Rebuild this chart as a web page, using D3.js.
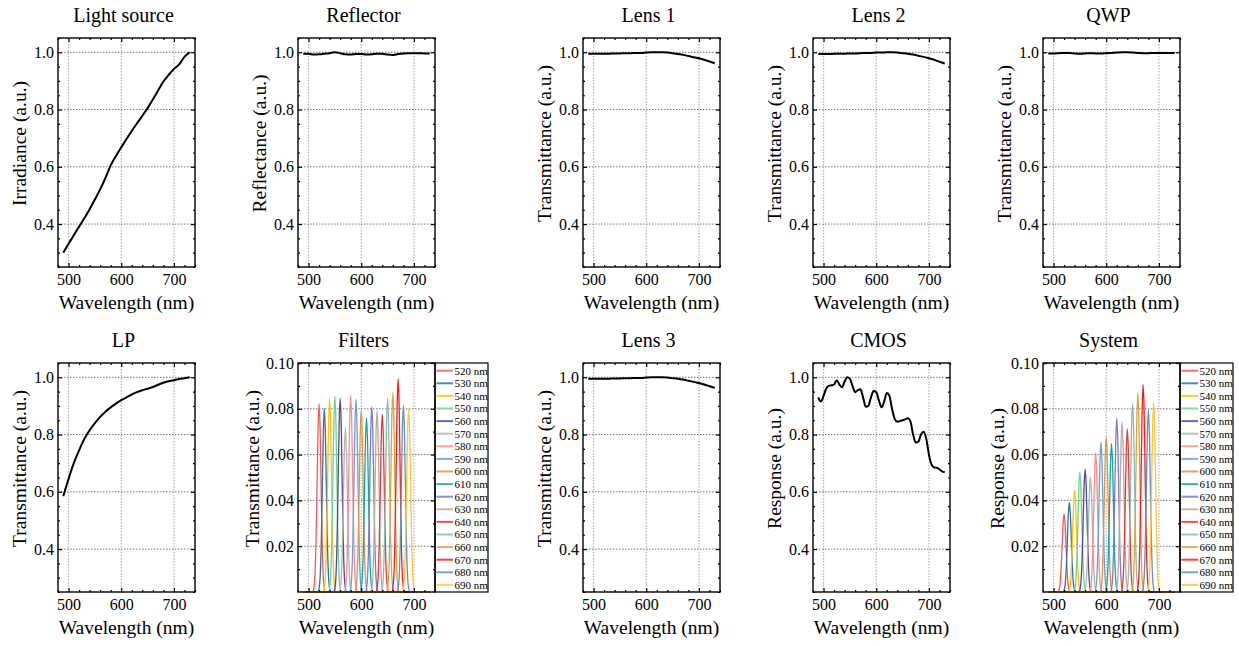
<!DOCTYPE html>
<html>
<head>
<meta charset="utf-8">
<title>Component spectra</title>
<script src="https://cdn.jsdelivr.net/npm/d3@7"></script>
<style>
  body { margin: 0; background: #fff; }
  text { font-family: "Liberation Serif", "Times New Roman", serif; fill: #000; }
</style>
</head>
<body>
<svg id="chart" width="1239" height="646"></svg>
<script>
// wavelength grid (nm) shared by the smooth component curves
var wl = [490, 500, 510, 520, 530, 540, 550, 560, 570, 580, 590, 600, 610,
          620, 630, 640, 650, 660, 670, 680, 690, 700, 710, 720, 730];

var lightSource = [0.300, 0.331, 0.361, 0.391, 0.420, 0.452, 0.486, 0.521, 0.561, 0.605, 0.638, 0.668, 0.697,
                   0.725, 0.752, 0.778, 0.805, 0.835, 0.867, 0.898, 0.921, 0.942, 0.958, 0.984, 1.000];
var reflector   = [0.995, 0.995, 0.992, 0.993, 0.995, 0.997, 1.000, 0.997, 0.993, 0.992, 0.994, 0.994, 0.992,
                   0.993, 0.995, 0.995, 0.992, 0.991, 0.994, 0.996, 0.997, 0.997, 0.997, 0.996, 0.996];
var lens1       = [0.995, 0.995, 0.995, 0.995, 0.995, 0.996, 0.996, 0.997, 0.997, 0.998, 0.998, 0.999, 1.000,
                   1.000, 1.000, 0.999, 0.997, 0.994, 0.991, 0.987, 0.983, 0.979, 0.974, 0.968, 0.962];
var lens2       = [0.994, 0.994, 0.994, 0.995, 0.995, 0.995, 0.996, 0.996, 0.997, 0.998, 0.998, 0.999, 0.999,
                   1.000, 1.000, 0.999, 0.997, 0.995, 0.992, 0.988, 0.984, 0.979, 0.974, 0.967, 0.961];
var qwp         = [0.996, 0.996, 0.997, 0.998, 0.998, 0.996, 0.995, 0.996, 0.997, 0.996, 0.996, 0.997, 0.998,
                   0.999, 1.000, 1.000, 0.999, 0.998, 0.997, 0.997, 0.998, 0.998, 0.998, 0.998, 0.998];
var lp          = [0.585, 0.645, 0.700, 0.745, 0.785, 0.815, 0.840, 0.862, 0.880, 0.895, 0.908, 0.920, 0.930,
                   0.940, 0.948, 0.955, 0.960, 0.966, 0.974, 0.981, 0.986, 0.990, 0.994, 0.997, 1.000];
var lens3       = [0.995, 0.995, 0.995, 0.995, 0.995, 0.996, 0.996, 0.997, 0.997, 0.998, 0.998, 0.999, 1.000,
                   1.000, 1.000, 0.999, 0.997, 0.995, 0.992, 0.988, 0.984, 0.980, 0.975, 0.969, 0.963];

// CMOS response has ripples, so it is read at 5 nm
var cmosWl = [490, 495, 500, 505, 510, 515, 520, 525, 530, 535, 540, 545, 550, 555, 560, 565, 570, 575,
              580, 585, 590, 595, 600, 605, 610, 615, 620, 625, 630, 635, 640, 645, 650, 655, 660, 665,
              670, 675, 680, 685, 690, 695, 700, 705, 710, 715, 720, 725, 730];
var cmos   = [0.930, 0.915, 0.935, 0.960, 0.970, 0.972, 0.975, 0.990, 0.975, 0.965, 0.985, 1.000, 0.995,
              0.970, 0.948, 0.955, 0.958, 0.930, 0.897, 0.900, 0.930, 0.952, 0.948, 0.920, 0.895, 0.915,
              0.945, 0.935, 0.890, 0.855, 0.845, 0.847, 0.850, 0.853, 0.857, 0.845, 0.800, 0.772, 0.775,
              0.800, 0.810, 0.785, 0.730, 0.695, 0.685, 0.684, 0.678, 0.671, 0.668];

// band-pass filters: centre wavelengths and peak heights
var filterNm    = [520, 530, 540, 550, 560, 570, 580, 590, 600, 610, 620, 630, 640, 650, 660, 670, 680, 690];
var filterPeaks = [0.0822, 0.0801, 0.0843, 0.0855, 0.0845, 0.0717, 0.0858, 0.0842, 0.0793,
                   0.0761, 0.0809, 0.0793, 0.0777, 0.0848, 0.0870, 0.0932, 0.0816, 0.0803];
var systemPeaks = [0.0341, 0.0391, 0.0446, 0.0525, 0.0536, 0.0501, 0.0609, 0.0654, 0.0677,
                   0.0648, 0.0759, 0.0743, 0.0712, 0.0822, 0.0868, 0.0906, 0.0797, 0.0828];
var bandOffset = [-12, -10, -8, -6, -4, -2, 0, 2, 4, 6, 8, 10, 12];
var bandShape  = [0, 0.02, 0.08, 0.25, 0.54, 0.86, 1, 0.86, 0.54, 0.25, 0.08, 0.02, 0];
var bandColors = ["#f25a5a", "#3b6ea5", "#ffc20e", "#6fd28f", "#4d4d8f", "#b3b3b3", "#ff8c8c", "#6b9fd6", "#d9954a",
                  "#12a89e", "#7b7bcc", "#b8aba3", "#e53935", "#8cbcb3", "#d4a73c", "#ff1a1a", "#6a90c0", "#ffc83a"];

var xTicks = [500, 600, 700];
var xMinor = [480, 520, 540, 560, 580, 620, 640, 660, 680, 720, 740];
var unitTicks = [0.4, 0.6, 0.8, 1.0];
var unitMinor = [0.25, 0.3, 0.35, 0.45, 0.5, 0.55, 0.65, 0.7, 0.75, 0.85, 0.9, 0.95, 1.05];
var bandTicks = [0.02, 0.04, 0.06, 0.08, 0.10];
var bandMinor = [0.01, 0.03, 0.05, 0.07, 0.09];

var svg = d3.select("#chart");
var colX = [0, 240, 525, 755, 985], rowY = [0, 325];
var pw = 137, ph = 229;

var panels = [
  {title: "Light source", ylab: "Irradiance (a.u.)",    c: 0, r: 0, xs: wl, ys: lightSource},
  {title: "Reflector",    ylab: "Reflectance (a.u.)",   c: 1, r: 0, xs: wl, ys: reflector},
  {title: "Lens 1",       ylab: "Transmittance (a.u.)", c: 2, r: 0, xs: wl, ys: lens1},
  {title: "Lens 2",       ylab: "Transmittance (a.u.)", c: 3, r: 0, xs: wl, ys: lens2},
  {title: "QWP",          ylab: "Transmittance (a.u.)", c: 4, r: 0, xs: wl, ys: qwp},
  {title: "LP",           ylab: "Transmittance (a.u.)", c: 0, r: 1, xs: wl, ys: lp},
  {title: "Filters",      ylab: "Transmittance (a.u.)", c: 1, r: 1, peaks: filterPeaks},
  {title: "Lens 3",       ylab: "Transmittance (a.u.)", c: 2, r: 1, xs: wl, ys: lens3},
  {title: "CMOS",         ylab: "Response (a.u.)",      c: 3, r: 1, xs: cmosWl, ys: cmos},
  {title: "System",       ylab: "Response (a.u.)",      c: 4, r: 1, peaks: systemPeaks}
];

function styleAxis(sel) {
  sel.attr("font-size", 16).attr("font-family", "Liberation Serif");
  sel.select(".domain").remove();
  sel.selectAll("line").attr("stroke", "#000").attr("stroke-width", 1.2);
}

panels.forEach(function(p) {
  var multi = !!p.peaks;
  var x = d3.scaleLinear().domain([480, 740]).range([0, pw]);
  var y = d3.scaleLinear().domain(multi ? [0, 0.1] : [0.25, 1.05]).range([ph, 0]);
  var yt = multi ? bandTicks : unitTicks, ym = multi ? bandMinor : unitMinor;
  var g = svg.append("g").attr("transform", "translate(" + (colX[p.c] + 58) + "," + (rowY[p.r] + 38) + ")");

  // dotted grid
  g.append("g").selectAll("line").data(xTicks).join("line")
    .attr("x1", d => x(d)).attr("x2", d => x(d)).attr("y1", 0).attr("y2", ph)
    .attr("stroke", "#b5b5b5").attr("stroke-width", 1.2).attr("stroke-dasharray", "1.5,1.5");
  g.append("g").selectAll("line").data(yt).join("line")
    .attr("x1", 0).attr("x2", pw).attr("y1", d => y(d)).attr("y2", d => y(d))
    .attr("stroke", "#777").attr("stroke-width", 1).attr("stroke-dasharray", "1.5,1.5");

  // curves
  var line = d3.line().x(d => x(d[0])).y(d => y(d[1])).curve(d3.curveMonotoneX);
  if (multi) {
    p.peaks.forEach(function(pk, i) {
      var pts = [[490, 0]];
      bandOffset.forEach(function(o, j) { pts.push([filterNm[i] + o, pk * bandShape[j]]); });
      pts.push([730, 0]);
      g.append("path").datum(pts).attr("d", line)
        .attr("fill", "none").attr("stroke", bandColors[i]).attr("stroke-width", 1.3);
    });
  } else {
    g.append("path").datum(p.xs.map((v, i) => [v, p.ys[i]])).attr("d", line)
      .attr("fill", "none").attr("stroke", "#000").attr("stroke-width", 2);
  }

  // axes with inward ticks on all four sides
  g.append("g").attr("transform", "translate(0," + ph + ")")
    .call(d3.axisBottom(x).tickValues(xTicks).tickSize(-4).tickPadding(7).tickFormat(d3.format("d"))).call(styleAxis);
  g.append("g").attr("transform", "translate(0," + ph + ")")
    .call(d3.axisBottom(x).tickValues(xMinor).tickSize(-2).tickFormat("")).call(styleAxis);
  g.append("g").call(d3.axisTop(x).tickValues(xTicks).tickSize(-4).tickFormat("")).call(styleAxis);
  g.append("g").call(d3.axisTop(x).tickValues(xMinor).tickSize(-2).tickFormat("")).call(styleAxis);
  g.append("g")
    .call(d3.axisLeft(y).tickValues(yt).tickSize(-4).tickPadding(4).tickFormat(d3.format(multi ? ".2f" : ".1f"))).call(styleAxis);
  g.append("g").call(d3.axisLeft(y).tickValues(ym).tickSize(-2).tickFormat("")).call(styleAxis);
  g.append("g").attr("transform", "translate(" + pw + ",0)")
    .call(d3.axisRight(y).tickValues(yt).tickSize(-4).tickFormat("")).call(styleAxis);
  g.append("g").attr("transform", "translate(" + pw + ",0)")
    .call(d3.axisRight(y).tickValues(ym).tickSize(-2).tickFormat("")).call(styleAxis);

  g.append("rect").attr("width", pw).attr("height", ph)
    .attr("fill", "none").attr("stroke", "#000").attr("stroke-width", 1.4);

  // legend box glued to the right of the frame
  if (multi) {
    var lg = g.append("g").attr("transform", "translate(" + pw + ",0)");
    lg.append("rect").attr("width", 53).attr("height", ph)
      .attr("fill", "none").attr("stroke", "#000").attr("stroke-width", 1.2);
    var row = lg.selectAll("g.item").data(filterNm).join("g").attr("class", "item")
      .attr("transform", (d, i) => "translate(0," + (7.7 + i * 12.6) + ")");
    row.append("line").attr("x1", 1.5).attr("x2", 18)
      .attr("stroke", (d, i) => bandColors[i]).attr("stroke-width", 2).attr("stroke-opacity", 0.85);
    row.append("text").attr("x", 19.5).attr("dy", "0.35em").attr("font-size", 11)
      .text(d => d + " nm");
  }

  // labels
  g.append("text").attr("x", pw / 2 - 3).attr("y", -16).attr("text-anchor", "middle")
    .attr("font-size", 20).text(p.title);
  g.append("text").attr("x", pw / 2).attr("y", ph + 42).attr("text-anchor", "middle")
    .attr("font-size", 19.5).text("Wavelength (nm)");
  g.append("text").attr("transform", "translate(" + (multi ? -46 : -39) + "," + (ph / 2 - 9) + ") rotate(-90)")
    .attr("text-anchor", "middle").attr("dy", "0.35em").attr("font-size", 19.5).text(p.ylab);
});
</script>
</body>
</html>
